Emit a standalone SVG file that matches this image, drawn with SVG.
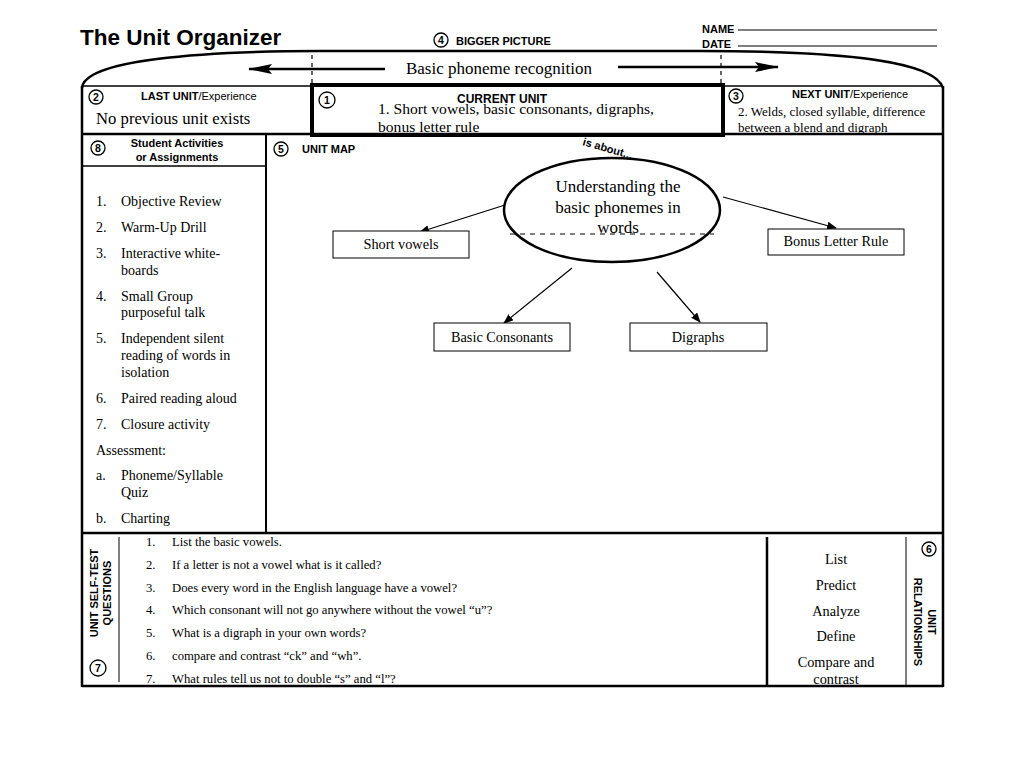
<svg xmlns="http://www.w3.org/2000/svg" width="1024" height="768" viewBox="0 0 1024 768">
<style>
.sans{font-family:"Liberation Sans",Arial,sans-serif}
.serif{font-family:"Liberation Serif","Times New Roman",serif}
.b{font-weight:bold}
.ln{stroke:#000;fill:none}
.circ{fill:#fff;stroke:#000;stroke-width:1.3}
.cn{font-family:"Liberation Sans",Arial,sans-serif;font-weight:bold;font-size:10.5px;text-anchor:middle}
.box{fill:#fff;stroke:#000;stroke-width:1}
.lbl{font-family:"Liberation Serif","Times New Roman",serif;font-size:14.3px;text-anchor:middle}
.item{font-family:"Liberation Serif","Times New Roman",serif;font-size:14px}
.q{font-family:"Liberation Serif","Times New Roman",serif;font-size:12.7px}
</style>
<defs>
<marker id="ah" markerWidth="10" markerHeight="8" refX="9" refY="4" orient="auto" markerUnits="userSpaceOnUse"><path d="M0,0 L10,4 L0,8 z" fill="#000"/></marker>
<marker id="big" markerWidth="24" markerHeight="10" refX="23" refY="5" orient="auto" markerUnits="userSpaceOnUse"><path d="M0,0 L24,5 L0,10 L4,5 z" fill="#000"/></marker>
</defs>
<rect width="1024" height="768" fill="#fff"/>

<g id="header">
<text x="80" y="45" class="sans b" font-size="22.5">The Unit Organizer</text>
<text x="702" y="33" class="sans b" font-size="11">NAME</text>
<line x1="738" y1="30" x2="937" y2="30" class="ln" stroke-width="1"/>
<text x="702" y="48" class="sans b" font-size="11">DATE</text>
<line x1="738" y1="46" x2="937" y2="46" class="ln" stroke-width="1"/>
</g>

<g id="frame">
<path d="M82,88 C84,60 200,51 320,51 L700,51 C850,51 935,62 943,88" class="ln" stroke-width="2.5"/>
<line x1="82" y1="86" x2="943" y2="86" class="ln" stroke-width="1.5"/>
<line x1="82" y1="86" x2="82" y2="687" class="ln" stroke-width="2.5"/>
<line x1="943" y1="86" x2="943" y2="687" class="ln" stroke-width="2.5"/>
<line x1="82" y1="134" x2="943" y2="134" class="ln" stroke-width="2.5"/>
<line x1="266" y1="134" x2="266" y2="533" class="ln" stroke-width="2"/>
<line x1="82" y1="166" x2="266" y2="166" class="ln" stroke-width="1.5"/>
<line x1="82" y1="533" x2="943" y2="533" class="ln" stroke-width="2.5"/>
<line x1="119" y1="537" x2="119" y2="682" class="ln" stroke-width="1"/>
<line x1="767" y1="537" x2="767" y2="686" class="ln" stroke-width="2.5"/>
<line x1="906" y1="537" x2="906" y2="686" class="ln" stroke-width="1"/>
<line x1="82" y1="686" x2="943" y2="686" class="ln" stroke-width="2.5"/>
<line x1="312" y1="55" x2="312" y2="86" class="ln" stroke-width="1.2" stroke-dasharray="4,4"/>
<line x1="721" y1="55" x2="721" y2="86" class="ln" stroke-width="1.2" stroke-dasharray="4,4"/>
</g>

<g id="bigger-picture">
<circle cx="441" cy="40" r="7" class="circ"/>
<text x="441" y="44" class="cn">4</text>
<text x="456" y="45" class="sans b" font-size="11">BIGGER PICTURE</text>
<text x="499" y="74" class="serif" font-size="17" text-anchor="middle">Basic phoneme recognition</text>
</g>

<g id="last-unit">
<circle cx="96" cy="97" r="7" class="circ"/>
<text x="96" y="101" class="cn">2</text>
<text x="141" y="100" class="sans" font-size="11"><tspan font-weight="bold">LAST UNIT</tspan>/Experience</text>
<text x="96" y="124" class="serif" font-size="16.7">No previous unit exists</text>
</g>

<g id="current-unit">
<rect x="312" y="85" width="411" height="50" fill="none" stroke="#000" stroke-width="4"/>
<circle cx="327" cy="100" r="8" class="circ"/>
<text x="327" y="104" class="cn">1</text>
<text x="502" y="103" class="sans b" font-size="12" text-anchor="middle">CURRENT UNIT</text>
<text x="378" y="114" class="serif" font-size="15.6">1. Short vowels, basic consonants, digraphs,</text>
<text x="378" y="132" class="serif" font-size="15.6">bonus letter rule</text>
</g>

<g id="next-unit">
<circle cx="736" cy="96" r="7" class="circ"/>
<text x="736" y="100" class="cn">3</text>
<text x="792" y="98" class="sans" font-size="11"><tspan font-weight="bold">NEXT UNIT</tspan>/Experience</text>
<text x="738" y="116" class="serif" font-size="13">2. Welds, closed syllable, difference</text>
<text x="738" y="132" class="serif" font-size="13">between a blend and digraph</text>
</g>

<g id="student-activities">
<circle cx="98" cy="148" r="7" class="circ"/>
<text x="98" y="152" class="cn">8</text>
<text x="177" y="147" class="sans b" font-size="11" text-anchor="middle">Student Activities</text>
<text x="177" y="161" class="sans b" font-size="11" text-anchor="middle">or Assignments</text>
<g class="item">
<text x="96" y="206">1.</text><text x="121" y="206">Objective Review</text>
<text x="96" y="232">2.</text><text x="121" y="232">Warm-Up Drill</text>
<text x="96" y="258">3.</text><text x="121" y="258">Interactive white-</text>
<text x="121" y="275">boards</text>
<text x="96" y="301">4.</text><text x="121" y="301">Small Group</text>
<text x="121" y="317">purposeful talk</text>
<text x="96" y="343">5.</text><text x="121" y="343">Independent silent</text>
<text x="121" y="360">reading of words in</text>
<text x="121" y="377">isolation</text>
<text x="96" y="403">6.</text><text x="121" y="403">Paired reading aloud</text>
<text x="96" y="429">7.</text><text x="121" y="429">Closure activity</text>
<text x="96" y="455">Assessment:</text>
<text x="96" y="480">a.</text><text x="121" y="480">Phoneme/Syllable</text>
<text x="121" y="497">Quiz</text>
<text x="96" y="523">b.</text><text x="121" y="523">Charting</text>
</g>
</g>

<g id="unit-map-header">
<circle cx="281" cy="149" r="7" class="circ"/>
<text x="281" y="153" class="cn">5</text>
<text x="302" y="153" class="sans b" font-size="11">UNIT MAP</text>
<text x="582" y="145" class="sans b" font-size="11" transform="rotate(16 582 145)">is about...</text>
</g>

<g id="connectors" stroke="#000" stroke-width="1.2" fill="none">
<line x1="505" y1="205" x2="420" y2="232" marker-end="url(#ah)"/>
<line x1="723" y1="197" x2="836" y2="228" marker-end="url(#ah)"/>
<line x1="572" y1="268" x2="504" y2="323" marker-end="url(#ah)"/>
<line x1="657" y1="272" x2="700" y2="322" marker-end="url(#ah)"/>
<line x1="385" y1="69" x2="249" y2="69" stroke-width="2.5" marker-end="url(#big)"/>
<line x1="618" y1="67" x2="778" y2="67" stroke-width="2.5" marker-end="url(#big)"/>
</g>

<g id="main-idea">
<ellipse cx="612" cy="210" rx="108" ry="52" fill="#fff" stroke="#000" stroke-width="2.5"/>
<text x="618" y="192" class="serif" font-size="17" text-anchor="middle">Understanding the</text>
<text x="618" y="213" class="serif" font-size="17" text-anchor="middle">basic phonemes in</text>
<text x="618" y="233" class="serif" font-size="17" text-anchor="middle">words</text>
<line x1="510" y1="234" x2="714" y2="234" stroke="#000" stroke-width="1" stroke-dasharray="5,5"/>
</g>

<g id="short-vowels"><rect x="333" y="231" width="136" height="27" class="box"/><text x="401" y="249" class="lbl">Short vowels</text></g>
<g id="bonus-letter-rule"><rect x="768" y="229" width="136" height="26" class="box"/><text x="836" y="246" class="lbl">Bonus Letter Rule</text></g>
<g id="basic-consonants"><rect x="434" y="323" width="136" height="28" class="box"/><text x="502" y="342" class="lbl">Basic Consonants</text></g>
<g id="digraphs"><rect x="630" y="323" width="137" height="28" class="box"/><text x="698" y="342" class="lbl">Digraphs</text></g>

<g id="self-test">
<text class="sans b" font-size="11" text-anchor="middle" transform="translate(98 593) rotate(-90)">UNIT SELF-TEST</text>
<text class="sans b" font-size="11" text-anchor="middle" transform="translate(111 593) rotate(-90)">QUESTIONS</text>
<circle cx="98" cy="668" r="8" class="circ"/>
<text x="98" y="672" class="cn">7</text>
<g class="q">
<text x="146" y="546">1.</text><text x="172" y="546">List the basic vowels.</text>
<text x="146" y="569">2.</text><text x="172" y="569">If a letter is not a vowel what is it called?</text>
<text x="146" y="592">3.</text><text x="172" y="592">Does every word in the English language have a vowel?</text>
<text x="146" y="614">4.</text><text x="172" y="614"> Which consonant will not go anywhere without the vowel “u”?</text>
<text x="146" y="637">5.</text><text x="172" y="637">What is a digraph in your own words?</text>
<text x="146" y="660">6.</text><text x="172" y="660"> compare and contrast “ck” and “wh”.</text>
<text x="146" y="683">7.</text><text x="172" y="683">What rules tell us not to double “s” and “l”?</text>
</g>
</g>

<g id="relationships">
<g class="lbl">
<text x="836" y="564">List</text>
<text x="836" y="590">Predict</text>
<text x="836" y="616">Analyze</text>
<text x="836" y="641">Define</text>
<text x="836" y="667">Compare and</text>
<text x="836" y="684">contrast</text>
</g>
<circle cx="929" cy="549" r="7" class="circ"/>
<text x="929" y="553" class="cn">6</text>
<text class="sans b" font-size="11" text-anchor="middle" transform="translate(928 622) rotate(90)">UNIT</text>
<text class="sans b" font-size="11" text-anchor="middle" transform="translate(914 622) rotate(90)">RELATIONSHIPS</text>
</g>
</svg>
